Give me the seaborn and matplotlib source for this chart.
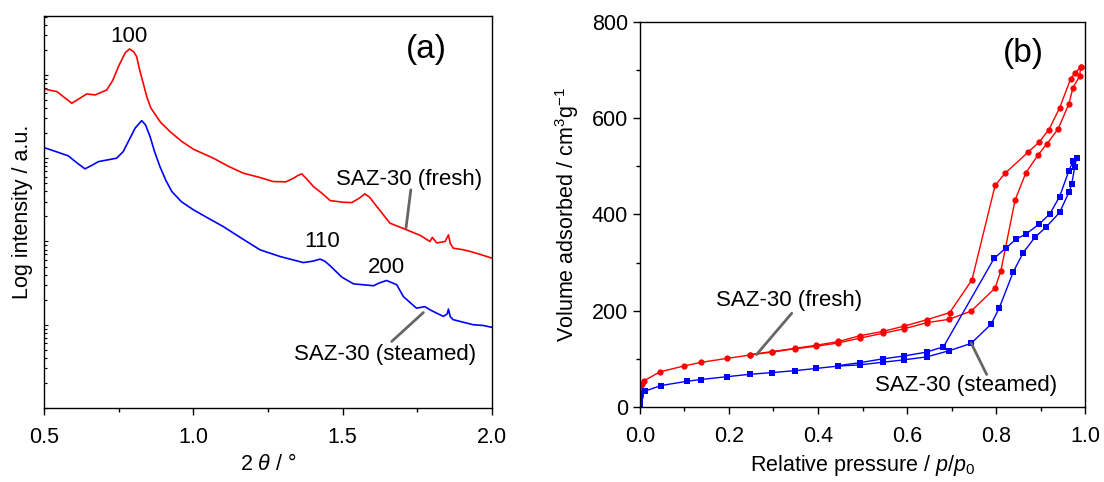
import numpy as np
import pandas as pd
import matplotlib
matplotlib.use("Agg")
import matplotlib.pyplot as plt
import seaborn as sns

# ---------------- data: (a) XRD, log intensity ----------------
xrd_fresh_2theta = [0.500, 0.543, 0.593, 0.643, 0.671, 0.710, 0.730, 0.749, 0.772, 0.786, 0.800,
                    0.810, 0.820, 0.832, 0.845, 0.858, 0.890, 0.922, 0.960, 1.000, 1.067, 1.117, 1.167,
                    1.220, 1.268, 1.310, 1.335, 1.350, 1.363, 1.380, 1.402, 1.430, 1.458, 1.500, 1.530, 1.555,
                    1.574, 1.590, 1.614, 1.658, 1.714, 1.760, 1.792, 1.800, 1.815, 1.843,
                    1.854, 1.860, 1.870, 1.900, 1.926, 1.960, 2.000]
xrd_fresh_int = [6790, 6300, 4570, 5910, 5750, 6600, 8600, 12570, 18500, 20500, 19000,
                 16560, 11500, 7940, 5300, 3980, 2700, 2085, 1600, 1282, 1000, 800, 661,
                 590, 524, 520, 575, 620, 648, 560, 456, 380, 310, 296, 293, 330,
                 373, 340, 263, 166, 138, 118, 100, 112, 96, 100,
                 120, 95, 83, 80, 76, 70, 63]

xrd_steam_2theta = [0.500, 0.540, 0.581, 0.610, 0.637, 0.660, 0.682, 0.743, 0.765, 0.782,
                    0.805, 0.827, 0.840, 0.855, 0.870, 0.888, 0.908, 0.928, 0.960, 1.000, 1.050,
                    1.100, 1.160, 1.223, 1.290, 1.368, 1.400, 1.424, 1.440, 1.458, 1.497,
                    1.536, 1.603, 1.625, 1.647, 1.681, 1.703, 1.747, 1.775, 1.797, 1.837,
                    1.850, 1.854, 1.860, 1.870, 1.900, 1.937, 1.970, 2.000]
xrd_steam_int = [1340, 1200, 1067, 880, 745, 820, 910, 1000, 1200, 1582,
                 2300, 2827, 2500, 1816, 1200, 793, 540, 397, 300, 240, 190,
                 151, 110, 79.4, 66, 55.8, 58, 61.4, 58, 51, 37.3,
                 31, 29.4, 32, 34, 30.2, 21.8, 15.8, 16.5, 14.8, 12.6,
                 13.5, 15.4, 12.5, 11.5, 10.8, 10, 9.8, 9.3]

# ---------------- data: (b) N2 isotherms ----------------
fresh_ads_p = [0.0003, 0.002, 0.005, 0.010, 0.045, 0.098, 0.136, 0.196, 0.248, 0.297,
               0.349, 0.395, 0.446, 0.494, 0.546, 0.594, 0.644, 0.694, 0.744, 0.798,
               0.811, 0.843, 0.867, 0.895, 0.915, 0.940, 0.964, 0.973, 0.988, 0.990]
fresh_ads_v = [20, 38, 47, 55, 73, 85, 92.5, 101, 108, 114,
               121, 126, 133, 143, 153, 162.5, 175, 182, 199, 247,
               283, 430, 486, 524, 547, 578, 630, 663, 687, 705]
fresh_des_p = [0.990, 0.978, 0.968, 0.943, 0.919, 0.897, 0.872, 0.820, 0.798, 0.746,
               0.696, 0.644, 0.594, 0.546, 0.494, 0.446, 0.395, 0.349, 0.297, 0.248]
fresh_des_v = [705, 694, 682, 621, 576, 550, 529, 485, 460, 264,
               196, 181, 168, 157, 148, 136, 128, 122, 115, 109]

steam_ads_p = [0.0, 0.0005, 0.001, 0.003, 0.011, 0.047, 0.106, 0.136, 0.196, 0.248,
               0.297, 0.349, 0.395, 0.446, 0.494, 0.546, 0.594, 0.644, 0.694, 0.744,
               0.789, 0.807, 0.839, 0.861, 0.887, 0.912, 0.943, 0.964, 0.970, 0.977, 0.981]
steam_ads_v = [3, 14, 21, 27, 33, 44.5, 53.5, 57, 63, 68,
               71.5, 75.5, 80, 85, 87.5, 93, 98, 104, 116.7, 132,
               172, 205, 281, 320, 352, 373, 404, 446, 462, 499, 517]
steam_des_p = [0.981, 0.973, 0.964, 0.943, 0.921, 0.896, 0.867, 0.846, 0.822, 0.796,
               0.682, 0.644, 0.594, 0.546, 0.494, 0.446]
steam_des_v = [517, 510, 491, 437, 401, 379, 359, 349, 330, 309,
               125, 114, 106, 100, 92, 86]

# ---------------- style ----------------
sns.set_style("ticks")
plt.rcParams["font.family"] = ["Liberation Sans", "DejaVu Sans"]
plt.rcParams["mathtext.fontset"] = "custom"
plt.rcParams["mathtext.rm"] = "Liberation Sans"
plt.rcParams["mathtext.it"] = "Liberation Sans:italic"
plt.rcParams["axes.linewidth"] = 1.0
plt.rcParams["axes.edgecolor"] = "black"
plt.rcParams["text.color"] = "black"
plt.rcParams["axes.labelcolor"] = "black"
plt.rcParams["xtick.color"] = "black"
plt.rcParams["ytick.color"] = "black"

RED = "#ff0000"
BLUE = "#0000ff"
GRAY = "#666666"
FS = 15.5
FT = 16

fig = plt.figure(figsize=(11.04, 4.82), dpi=100)
axA = fig.add_axes([0.0399, 0.1535, 0.4058, 0.8133])
axB = fig.add_axes([0.5797, 0.1556, 0.4031, 0.7994])

# ---------------- panel (a) ----------------
dfa_f = pd.DataFrame({"x": xrd_fresh_2theta, "y": xrd_fresh_int})
dfa_s = pd.DataFrame({"x": xrd_steam_2theta, "y": xrd_steam_int})
sns.lineplot(data=dfa_f, x="x", y="y", ax=axA, color=RED, lw=1.2, sort=False, estimator=None)
sns.lineplot(data=dfa_s, x="x", y="y", ax=axA, color=BLUE, lw=1.2, sort=False, estimator=None)
axA.set_yscale("log")
axA.set_xlim(0.5, 2.0)
axA.set_ylim(1, 5.1e4)
axA.set_xticks([0.5, 1.0, 1.5, 2.0])
axA.set_xticks([0.75, 1.25, 1.75], minor=True)
axA.set_xticklabels(["0.5", "1.0", "1.5", "2.0"])
axA.tick_params(axis="x", which="major", direction="out", length=5, width=1, labelsize=FS, pad=9)
axA.tick_params(axis="x", which="minor", direction="out", length=3, width=1)
axA.tick_params(axis="y", which="both", direction="in", length=2, width=0.8, labelleft=False)
axA.tick_params(axis="y", which="major", length=3)
axA.set_xlabel(r"2 $\it{\theta}$ / °", fontsize=FS, labelpad=4)
axA.set_ylabel("Log intensity / a.u.", fontsize=FS, labelpad=8)
for s in axA.spines.values():
    s.set_visible(True)
    s.set_linewidth(1.0)

axA.text(0.785, 28600, "100", fontsize=FT, ha="center", va="center")
axA.text(1.431, 99, "110", fontsize=FT, ha="center", va="center")
axA.text(1.648, 48.3, "200", fontsize=FT, ha="center", va="center")
axA.text(1.779, 19950, "(a)", fontsize=24, ha="center", va="center")
axA.text(1.722, 550, "SAZ-30 (fresh)", fontsize=FT, ha="center", va="center")
axA.plot([1.728, 1.712], [417, 146], color=GRAY, lw=2)
axA.text(1.642, 4.37, "SAZ-30 (steamed)", fontsize=FT, ha="center", va="center")
axA.plot([1.664, 1.770], [6.3, 14.0], color=GRAY, lw=2)

# ---------------- panel (b) ----------------
series = [
    (fresh_ads_p, fresh_ads_v, RED, "o", 4.5),
    (fresh_des_p, fresh_des_v, RED, "o", 4.5),
    (steam_ads_p, steam_ads_v, BLUE, "s", 3.8),
    (steam_des_p, steam_des_v, BLUE, "s", 3.8),
]
for px, vy, col, mk, ms in series:
    d = pd.DataFrame({"p": px, "v": vy})
    sns.lineplot(data=d, x="p", y="v", ax=axB, color=col, lw=1.0, sort=False, estimator=None,
                 marker=mk, markersize=ms, markeredgewidth=0, markerfacecolor=col)
axB.set_xlim(0, 1.0)
axB.set_ylim(0, 800)
axB.set_xticks(np.arange(0, 1.01, 0.2))
axB.set_xticks(np.arange(0.1, 1.0, 0.2), minor=True)
axB.set_xticklabels(["0.0", "0.2", "0.4", "0.6", "0.8", "1.0"])
axB.set_yticks([0, 200, 400, 600, 800])
axB.set_yticks([100, 300, 500, 700], minor=True)
axB.tick_params(which="major", direction="out", length=5, width=1, labelsize=FS)
axB.tick_params(which="minor", direction="out", length=3, width=1)
axB.tick_params(axis="x", which="major", pad=9)
axB.set_xlabel(r"Relative pressure / $\it{p/p_0}$", fontsize=FS, labelpad=4)
axB.set_ylabel(r"Volume adsorbed / cm$^3$g$^{-1}$", fontsize=FS, labelpad=8)
for s in axB.spines.values():
    s.set_visible(True)
    s.set_linewidth(1.0)

axB.text(0.335, 222, "SAZ-30 (fresh)", fontsize=FT, ha="center", va="center")
axB.plot([0.341, 0.262], [194.6, 109], color=GRAY, lw=2)
axB.text(0.733, 45, "SAZ-30 (steamed)", fontsize=FT, ha="center", va="center")
axB.plot([0.744, 0.779], [133, 67.5], color=GRAY, lw=2)
axB.text(0.861, 734, "(b)", fontsize=24, ha="center", va="center")

fig.savefig("out.png", dpi=100)
